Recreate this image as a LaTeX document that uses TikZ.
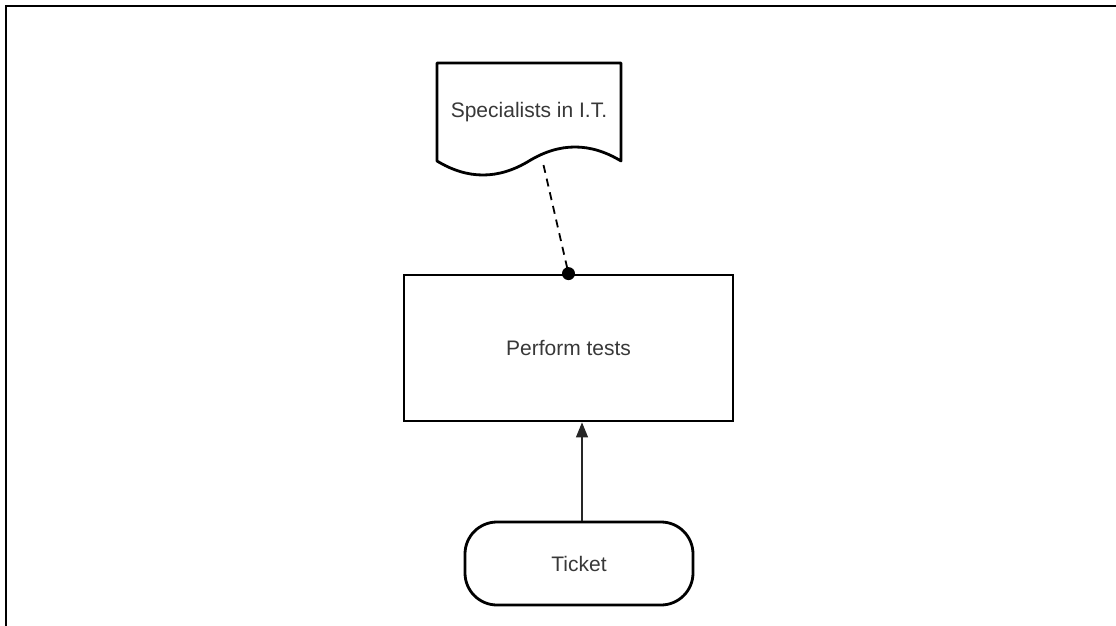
\documentclass[tikz,border=0pt]{standalone}
\usepackage{fontspec}
\setmainfont{Liberation Sans}
\usetikzlibrary{arrows.meta}
\begin{document}
\begin{tikzpicture}[x=1pt,y=-1pt,
  lbl/.style={font=\fontsize{21}{24}\selectfont, text=black!78},
  shapeline/.style={draw=black, line width=2.8pt},
  frameline/.style={draw=black, line width=2.2pt},
  dashconn/.style={draw=black, line width=1.8pt, dash pattern=on 8pt off 6pt},
  flowconn/.style={draw=black!85, line width=1.2pt, -{Triangle[length=15pt,width=12pt]}}]
\useasboundingbox (0,0) rectangle (1116,626);
% frame
\draw[frameline] (6,626) -- (6,6) -- (1116,6);
% document shape
\node[lbl, minimum width=184pt, minimum height=98pt, inner sep=0pt] (spec) at (529,112) {Specialists in I.T.};
\draw[shapeline, line join=round] (437,161) -- (437,63) -- (621,63) -- (621,161)
  .. controls (590.33,142.33) and (559.67,142.33) .. (529,161)
  .. controls (498.33,179.67) and (467.67,179.67) .. (437,161) -- cycle;
% task rectangle
\node[shapeline, lbl, minimum width=329pt, minimum height=146pt, inner sep=0pt] (task) at (568.5,348) {Perform tests};
% ticket
\node[shapeline, lbl, rounded corners=32pt, minimum width=228pt, minimum height=83pt, inner sep=0pt] (ticket) at (579,563.5) {Ticket};
% connectors
\coordinate (specb) at (543.5,165);
\draw[dashconn] (specb) -- (task.north);
\fill (task.north) circle (6.5pt);
\draw[flowconn] ([xshift=3pt]ticket.north) -- ([xshift=3pt]ticket.north |- task.south);
\end{tikzpicture}
\end{document}
